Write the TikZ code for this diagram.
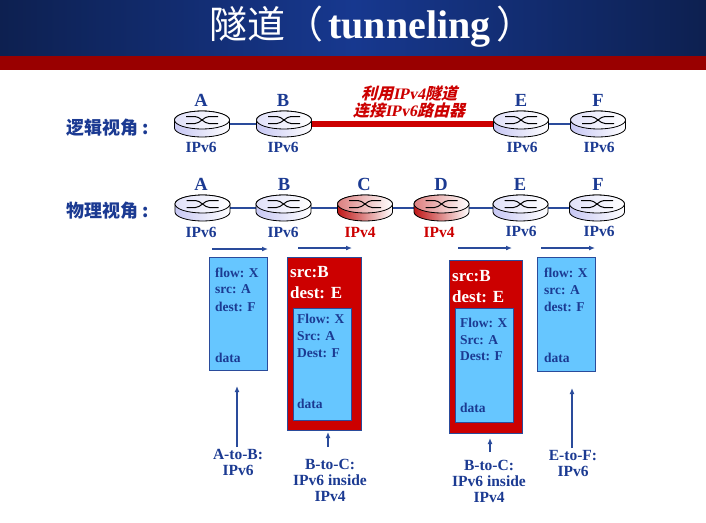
\documentclass[tikz,border=0pt]{standalone}
\usepackage{fontspec}
\setmainfont{Liberation Serif}
\newfontfamily\cjk{Noto Sans CJK SC}
\newfontfamily\cjkslant[FakeSlant=0.25]{Noto Sans CJK SC}
\newfontfamily\serifslant[FakeSlant=0.2]{Liberation Serif}
\usetikzlibrary{arrows.meta,backgrounds}
\definecolor{navy}{HTML}{1B3A92}
\definecolor{linkblue}{HTML}{2A4B9B}
\definecolor{darkred}{HTML}{990000}
\definecolor{pktred}{HTML}{CC0000}
\definecolor{pktblue}{HTML}{66C6FF}
\definecolor{titleedge}{HTML}{0D2050}
\definecolor{titlemid}{HTML}{17388F}
\definecolor{routerlav}{HTML}{C8C8F4}
\definecolor{routerred}{HTML}{C01818}
\tikzset{
  x=1pt,y=-1pt,
  lab/.style={font=\fontsize{18.5}{18.5}\selectfont\bfseries,text=navy,inner sep=0pt},
  ver/.style={font=\fontsize{15.5}{15.5}\selectfont\bfseries,text=navy,inner sep=0pt},
  verred/.style={ver,text=pktred},
  view/.style={font=\fontsize{18}{18}\selectfont\bfseries\cjk,text=navy,inner sep=0pt},
  pkt/.style={font=\fontsize{13.5}{13.5}\selectfont\bfseries,text=navy,inner sep=0pt,anchor=west},
  hdr/.style={font=\fontsize{17}{17}\selectfont\bfseries,text=white,inner sep=0pt,anchor=west},
  captext/.style={font=\fontsize{15.5}{16}\selectfont\bfseries,text=navy,inner sep=0pt,align=center},
  link/.style={draw=linkblue,line width=1.3pt},
  flow/.style={draw=linkblue,line width=1.2pt,-{Latex[length=6pt,width=5pt]}},
  blubox/.style={draw=linkblue,line width=1pt,fill=pktblue},
  redbox/.style={draw=linkblue,line width=1pt,fill=pktred},
}
% name, centre x, top-ellipse centre y, left colour, right colour
\newcommand{\routerat}[5]{%
  \coordinate (#1) at (#2,#3+4);
  \begin{scope}[shift={(#2,#3)}]
    \path[draw=black,line width=0.8pt,left color=#4,right color=#5]
      (-27.5,0) -- (-27.5,8) arc[start angle=180,end angle=360,x radius=27.5,y radius=-9]
      -- (27.5,0) arc[start angle=0,end angle=180,x radius=27.5,y radius=-9] -- cycle;
    \path[draw=black,line width=0.8pt,left color=#4!55!white,right color=white]
      (0,0) ellipse[x radius=27.5,y radius=9];
    \draw[black,line width=1pt] (-16,-3.5) -- (-7,-3.5) .. controls (-2,-3.5) and (2,3.5) .. (7,3.5) -- (16,3.5);
    \draw[black,line width=1pt] (-16,3.5) -- (-7,3.5) .. controls (-2,3.5) and (2,-3.5) .. (7,-3.5) -- (16,-3.5);
  \end{scope}}
\begin{document}
\begin{tikzpicture}
\useasboundingbox (0,0) rectangle (706,522);
% title band
\shade[left color=titleedge,right color=titlemid] (0,0) rectangle (353,56);
\shade[left color=titlemid,right color=titleedge] (353,0) rectangle (706,56);
\fill[darkred] (0,56) rectangle (706,70);
\node[inner sep=0pt,text=white] (title) at (372,27)
  {\fontsize{38}{38}\selectfont{\cjk 隧道（}\fontsize{40}{40}\selectfont\hspace{5pt}{\bfseries tunneling}\hspace{6pt}{\fontsize{38}{38}\selectfont\cjk ）}};

% logical view
\node[view] (vlog) at (108,128) {逻辑视角 :};
\routerat{la}{202}{120}{routerlav}{white}
\routerat{lb}{284}{120}{routerlav}{white}
\routerat{le}{521}{120}{routerlav}{white}
\routerat{lf}{598}{120}{routerlav}{white}
\node[lab] (tA) at (201,100) {A};
\node[lab] (tB) at (283,100) {B};
\node[lab] (tE) at (521,100) {E};
\node[lab] (tF) at (598,100) {F};
\node[ver] (tv1) at (201,147) {IPv6};
\node[ver] (tv2) at (283,147) {IPv6};
\node[ver] (tv3) at (522,147) {IPv6};
\node[ver] (tv4) at (599,147) {IPv6};
\node[inner sep=0pt,align=center,text=pktred,font=\fontsize{16}{17.5}\selectfont\bfseries] (tun) at (409,102)
  {{\cjkslant 利用}{\serifslant IPv4}{\cjkslant 隧道}\\{\cjkslant 连接}{\serifslant IPv6}{\cjkslant 路由器}};

% physical view
\node[view] (vphy) at (108,211) {物理视角 :};
\routerat{pa}{202.5}{204}{routerlav}{white}
\routerat{pb}{283.5}{204}{routerlav}{white}
\routerat{pc}{365}{204}{routerred}{white}
\routerat{pd}{441.5}{204}{routerred}{white}
\routerat{pe}{520.5}{204}{routerlav}{white}
\routerat{pf}{597}{204}{routerlav}{white}
\begin{scope}[on background layer]
\fill[white] (0,0) rectangle (706,522);
\draw[link] (la) -- (lb);
\draw[link] (le) -- (lf);
\draw[pktred,line width=6pt,yshift=-1pt] (lb) -- (le);
\draw[link] (pa) -- (pb);
\draw[link] (pb) -- (pc);
\draw[link] (pc) -- (pd);
\draw[link] (pd) -- (pe);
\draw[link] (pe) -- (pf);
\end{scope}
\node[lab] (bA) at (201,184) {A};
\node[lab] (bB) at (284,184) {B};
\node[lab] (bC) at (364,184) {C};
\node[lab] (bD) at (441,184) {D};
\node[lab] (bE) at (520,184) {E};
\node[lab] (bF) at (598,184) {F};
\node[ver] (bv1) at (201,232) {IPv6};
\node[ver] (bv2) at (283,232) {IPv6};
\node[verred] (bv3) at (360,232) {IPv4};
\node[verred] (bv4) at (439,232) {IPv4};
\node[ver] (bv5) at (521,231) {IPv6};
\node[ver] (bv6) at (599,231) {IPv6};

% direction arrows
\coordinate (f1a) at (212,249); \coordinate (f1b) at (268,249);
\coordinate (f2a) at (298,248); \coordinate (f2b) at (352,248);
\coordinate (f3a) at (458,248); \coordinate (f3b) at (512,248);
\coordinate (f4a) at (541,248); \coordinate (f4b) at (595,248);
\draw[flow] (f1a) -- (f1b);
\draw[flow] (f2a) -- (f2b);
\draw[flow] (f3a) -- (f3b);
\draw[flow] (f4a) -- (f4b);

% packet 1
\draw[blubox] (209,257) rectangle (267,370);
\node[pkt] (p1a) at (215,273) {flow: X};
\node[pkt] (p1b) at (215,289.5) {src: A};
\node[pkt] (p1c) at (215,306.5) {dest: F};
\node[pkt] (p1d) at (215,358) {data};

% packet 2
\draw[redbox] (287,257) rectangle (361,430);
\node[hdr] (p2x) at (290,272) {src:B};
\node[hdr] (p2y) at (290,293) {dest: E};
\draw[blubox] (293,308) rectangle (351,420);
\node[pkt] (p2a) at (297,319) {Flow: X};
\node[pkt] (p2b) at (297,336.5) {Src: A};
\node[pkt] (p2c) at (297,353) {Dest: F};
\node[pkt] (p2d) at (297,403.5) {data};

% packet 3
\draw[redbox] (449,260) rectangle (522,433);
\node[hdr] (p3x) at (452,276) {src:B};
\node[hdr] (p3y) at (452,296.5) {dest: E};
\draw[blubox] (455,308) rectangle (513,422);
\node[pkt] (p3a) at (460,323) {Flow: X};
\node[pkt] (p3b) at (460,340) {Src: A};
\node[pkt] (p3c) at (460,356.5) {Dest: F};
\node[pkt] (p3d) at (460,407.5) {data};

% packet 4
\draw[blubox] (537,257) rectangle (595,371);
\node[pkt] (p4a) at (544,273) {flow: X};
\node[pkt] (p4b) at (544,290) {src: A};
\node[pkt] (p4c) at (544,307) {dest: F};
\node[pkt] (p4d) at (544,358) {data};

% captions and pointers
\node[captext] (c1) at (238,462.5) {A-to-B:\\IPv6};
\node[captext] (c2) at (330,480) {B-to-C:\\IPv6 inside\\IPv4};
\node[captext] (c3) at (489,481) {B-to-C:\\IPv6 inside\\IPv4};
\node[captext] (c4) at (573,463.5) {E-to-F:\\IPv6};
\coordinate (u1) at (237,386);
\coordinate (u2) at (328,432);
\coordinate (u3) at (490,438);
\coordinate (u4) at (572,388);
\draw[flow] (237,447) -- (u1);
\draw[flow] (328,447) -- (u2);
\draw[flow] (490,452) -- (u3);
\draw[flow] (572,448) -- (u4);
\end{tikzpicture}
\end{document}
